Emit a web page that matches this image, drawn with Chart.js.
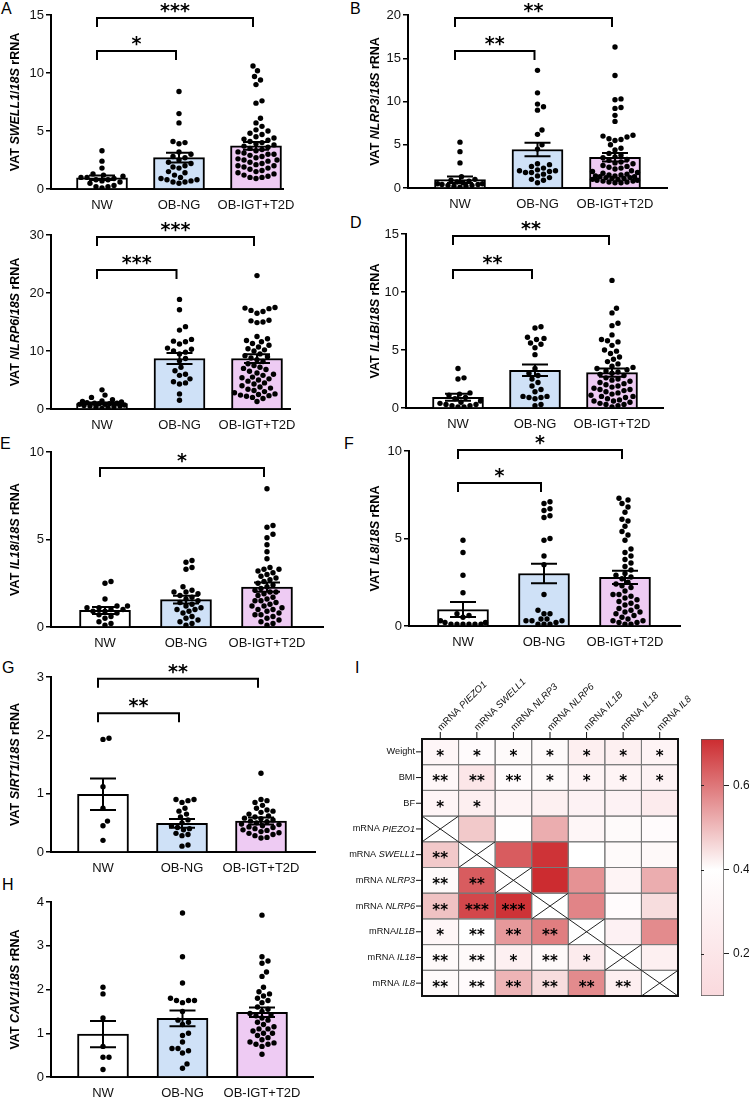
<!DOCTYPE html>
<html>
<head>
<meta charset="utf-8">
<script src="https://cdn.jsdelivr.net/npm/chart.js@4.4.1/dist/chart.umd.min.js"></script>
<style>
  html, body { margin: 0; padding: 0; background: #fff; width: 749px; height: 1097px; overflow: hidden; position: relative; font-family: "Liberation Sans", Arial, sans-serif; }
  canvas { position: absolute; }
  .lbl { position: absolute; font-size: 16px; line-height: 1; color: #000; }
</style>
</head>
<body>
<div class="lbl" style="left:1px;top:1px">A</div>
<div class="lbl" style="left:350px;top:1px">B</div>
<div class="lbl" style="left:350px;top:215px">D</div>
<div class="lbl" style="left:0px;top:436px">E</div>
<div class="lbl" style="left:344px;top:436px">F</div>
<div class="lbl" style="left:2px;top:660px">G</div>
<div class="lbl" style="left:355px;top:660px">I</div>
<div class="lbl" style="left:2px;top:877px">H</div>
<script>
const FONT = '"Liberation Sans", Arial, sans-serif';
const GROUPS = ['NW', 'OB-NG', 'OB-IGT+T2D'];
const GROUP_FILL = ['#ffffff', '#cfe1f7', '#eecbf3'];

// ---- A: SWELL1 ----
const swell1NW = [3.3, 2.4, 1.8, 1.3, 1.2, 1.1, 1.0, 1.0, 0.9, 0.8, 0.8, 0.7, 0.6, 0.5, 0.3, 0.2, 0.2, 0.1];
const swell1OBNG = [8.4, 6.5, 5.7, 4.1, 4.0, 3.9, 3.2, 3.0, 2.8, 2.7, 2.5, 2.3, 2.2, 2.0, 1.9, 1.8, 1.5, 1.4, 1.2, 1.0, 0.9, 0.8, 0.8, 0.7, 0.6, 0.6, 0.5];
const swell1IGT = [10.6, 10.2, 9.7, 9.4, 9.0, 7.6, 7.4, 6.1, 5.7, 5.4, 5.1, 5.0, 4.8, 4.7, 4.5, 4.4, 4.3, 4.2, 4.1, 4.0, 3.9, 3.8, 3.7, 3.6, 3.5, 3.4, 3.3, 3.2, 3.1, 3.0, 3.0, 2.9, 2.8, 2.7, 2.6, 2.5, 2.5, 2.4, 2.3, 2.2, 2.1, 2.0, 2.0, 1.9, 1.8, 1.7, 1.6, 1.5, 1.4, 1.3, 1.2, 1.1, 1.0, 1.0, 0.9];
const swell1Mean = [0.97, 2.7, 3.72];
const swell1Sem = [0.2, 0.42, 0.33];
const swell1Sig = [{ from: 1, to: 3, y: 14.74, label: '***' }, { from: 1, to: 2, y: 11.9, label: '*' }];

// ---- B: NLRP3 ----
const nlrp3NW = [5.3, 4.2, 2.9, 1.3, 1.0, 0.9, 0.8, 0.7, 0.6, 0.5, 0.5, 0.4, 0.4, 0.3, 0.3, 0.2, 0.2, 0.1];
const nlrp3OBNG = [13.6, 11.0, 9.7, 9.4, 9.0, 6.7, 6.2, 5.0, 4.5, 2.8, 2.7, 2.5, 2.3, 2.1, 2.0, 2.0, 1.9, 1.8, 1.8, 1.6, 1.4, 1.2, 1.0, 0.9, 0.6];
const nlrp3IGT = [16.3, 13.0, 10.3, 10.2, 9.3, 9.2, 8.4, 7.7, 6.1, 6.0, 5.9, 5.7, 5.6, 5.5, 5.0, 4.6, 4.4, 4.0, 3.8, 3.6, 3.5, 3.3, 3.2, 3.0, 2.9, 2.8, 2.6, 2.5, 2.4, 2.3, 2.2, 2.0, 1.9, 1.8, 1.7, 1.6, 1.5, 1.5, 1.4, 1.4, 1.3, 1.3, 1.2, 1.2, 1.1, 1.1, 1.0, 1.0, 0.9, 0.9, 0.8, 0.8, 0.7, 0.7, 0.6, 0.6];
const nlrp3Mean = [0.96, 4.45, 3.55];
const nlrp3Sem = [0.38, 0.78, 0.5];
const nlrp3Sig = [{ from: 1, to: 3, y: 19.65, label: '**' }, { from: 1, to: 2, y: 15.84, label: '**' }];

// ---- C: NLRP6 ----
const nlrp6NW = [3.3, 2.4, 2.0, 1.6, 1.4, 1.3, 1.2, 1.1, 1.0, 1.0, 0.9, 0.9, 0.8, 0.8, 0.7, 0.6, 0.5, 0.5, 0.4, 0.3, 0.2, 0.1];
const nlrp6OBNG = [18.9, 17.1, 14.2, 13.6, 12.0, 11.7, 11.6, 11.2, 10.5, 10.3, 10.0, 9.8, 9.5, 8.7, 8.3, 7.2, 6.6, 6.0, 5.8, 5.2, 4.7, 4.5, 4.3, 2.6, 1.5];
const nlrp6IGT = [23.0, 17.5, 17.4, 17.3, 17.0, 16.8, 16.5, 15.3, 15.2, 15.0, 14.9, 12.5, 12.1, 11.8, 11.6, 11.3, 11.0, 10.7, 10.4, 10.2, 10.0, 9.5, 9.2, 9.0, 8.8, 8.5, 8.2, 7.8, 7.5, 7.2, 7.0, 6.8, 6.5, 6.2, 6.0, 5.8, 5.5, 5.4, 5.2, 5.0, 4.8, 4.5, 4.3, 4.0, 3.8, 3.6, 3.4, 3.2, 3.0, 2.8, 2.6, 2.5, 2.4, 2.3, 2.2, 2.0, 1.8, 1.3];
const nlrp6Mean = [0.95, 8.7, 8.7];
const nlrp6Sem = [0.15, 0.95, 0.75];
const nlrp6Sig = [{ from: 1, to: 3, y: 29.66, label: '***' }, { from: 1, to: 2, y: 23.97, label: '***' }];

// ---- D: IL1B ----
const il1bNW = [3.4, 2.6, 2.5, 1.3, 1.2, 1.1, 0.9, 0.8, 0.6, 0.5, 0.4, 0.3, 0.3, 0.2, 0.2, 0.1, 0.1];
const il1bOBNG = [7.0, 6.9, 6.1, 6.0, 5.9, 5.6, 5.5, 5.2, 4.6, 3.4, 3.0, 2.8, 2.5, 2.2, 1.9, 1.6, 1.4, 1.0, 1.0, 0.9, 0.9, 0.8, 0.3, 0.2];
const il1bIGT = [11.0, 8.6, 8.2, 7.3, 7.1, 6.3, 5.9, 5.8, 5.7, 5.4, 5.0, 4.9, 4.7, 4.4, 4.2, 4.0, 3.8, 3.6, 3.5, 3.4, 3.3, 3.2, 3.1, 3.0, 2.9, 2.8, 2.6, 2.5, 2.4, 2.3, 2.2, 2.1, 2.0, 1.9, 1.8, 1.7, 1.6, 1.6, 1.5, 1.4, 1.3, 1.2, 1.1, 1.0, 1.0, 0.9, 0.8, 0.7, 0.6, 0.6, 0.5, 0.4, 0.3, 0.3, 0.2, 0.1];
const il1bMean = [0.92, 3.25, 3.05];
const il1bSem = [0.3, 0.5, 0.35];
const il1bSig = [{ from: 1, to: 3, y: 14.83, label: '**' }, { from: 1, to: 2, y: 11.9, label: '**' }];

// ---- E: IL18 ----
const il18NW = [2.6, 2.5, 1.6, 1.2, 1.2, 1.1, 1.1, 1.0, 1.0, 0.9, 0.9, 0.8, 0.7, 0.6, 0.5, 0.3, 0.2, 0.1];
const il18OBNG = [3.8, 3.7, 3.4, 3.3, 2.3, 2.1, 2.0, 2.0, 1.9, 1.8, 1.7, 1.6, 1.5, 1.4, 1.3, 1.2, 1.1, 1.0, 1.0, 0.9, 0.8, 0.6, 0.5, 0.4, 0.3, 0.2, 0.1];
const il18IGT = [7.9, 5.8, 5.7, 5.3, 5.1, 4.7, 4.3, 3.9, 3.4, 3.3, 3.3, 3.2, 3.1, 3.0, 2.9, 2.8, 2.7, 2.6, 2.5, 2.4, 2.3, 2.2, 2.1, 2.0, 2.0, 1.9, 1.8, 1.7, 1.6, 1.5, 1.5, 1.4, 1.3, 1.2, 1.2, 1.1, 1.0, 1.0, 0.9, 0.8, 0.7, 0.7, 0.6, 0.5, 0.4, 0.3, 0.2, 0.1];
const il18Mean = [0.95, 1.56, 2.28];
const il18Sem = [0.2, 0.22, 0.26];
const il18Sig = [{ from: 1, to: 3, y: 9.09, label: '*' }];

// ---- F: IL8 ----
const il8NW = [4.9, 4.2, 2.9, 1.9, 0.7, 0.6, 0.5, 0.3, 0.2, 0.2, 0.1, 0.1, 0.1, 0.1, 0.1, 0.1];
const il8OBNG = [7.1, 7.0, 6.7, 6.6, 6.3, 6.2, 5.0, 4.9, 4.0, 3.5, 1.8, 0.9, 0.7, 0.7, 0.4, 0.4, 0.3, 0.3, 0.3, 0.2, 0.1, 0.1, 0.1];
const il8IGT = [7.3, 7.2, 7.0, 6.8, 6.5, 6.1, 6.0, 5.7, 5.4, 5.2, 4.9, 4.4, 4.2, 4.0, 3.8, 3.6, 3.4, 3.2, 3.0, 2.9, 2.8, 2.7, 2.5, 2.4, 2.3, 2.2, 2.0, 1.8, 1.8, 1.7, 1.6, 1.5, 1.4, 1.3, 1.2, 1.1, 1.0, 0.9, 0.8, 0.8, 0.7, 0.6, 0.5, 0.4, 0.3, 0.3, 0.2, 0.2, 0.1, 0.1];
const il8Mean = [0.94, 3.0, 2.78];
const il8Sem = [0.43, 0.56, 0.38];
const il8Sig = [{ from: 1, to: 3, y: 10.06, label: '*' }, { from: 1, to: 2, y: 8.17, label: '*' }];

// ---- G: SIRT1 ----
const sirt1NW = [1.95, 1.93, 1.12, 0.75, 0.53, 0.45, 0.2];
const sirt1OBNG = [0.9, 0.9, 0.88, 0.85, 0.75, 0.7, 0.65, 0.6, 0.55, 0.5, 0.45, 0.42, 0.4, 0.38, 0.32, 0.3, 0.28, 0.12, 0.1];
const sirt1IGT = [1.35, 0.9, 0.88, 0.85, 0.8, 0.75, 0.72, 0.7, 0.68, 0.65, 0.62, 0.6, 0.58, 0.57, 0.55, 0.53, 0.52, 0.5, 0.48, 0.47, 0.45, 0.43, 0.42, 0.4, 0.38, 0.37, 0.35, 0.33, 0.32, 0.3, 0.28, 0.25, 0.24];
const sirt1Mean = [0.99, 0.49, 0.53];
const sirt1Sem = [0.27, 0.075, 0.06];
const sirt1Sig = [{ from: 1, to: 3, y: 2.97, label: '**' }, { from: 1, to: 2, y: 2.38, label: '**' }];

// ---- H: CAV1 ----
const cav1NW = [2.05, 1.9, 1.35, 0.7, 0.45, 0.45, 0.17];
const cav1OBNG = [3.75, 2.75, 2.15, 1.8, 1.75, 1.75, 1.75, 1.7, 1.5, 1.3, 1.25, 1.2, 1.0, 0.95, 0.8, 0.65, 0.65, 0.6, 0.55, 0.3, 0.2];
const cav1IGT = [3.7, 2.75, 2.65, 2.6, 2.4, 2.3, 2.05, 1.95, 1.9, 1.85, 1.8, 1.75, 1.7, 1.6, 1.55, 1.5, 1.45, 1.42, 1.4, 1.35, 1.3, 1.25, 1.2, 1.15, 1.1, 1.1, 1.05, 1.0, 1.0, 0.95, 0.9, 0.85, 0.8, 0.78, 0.75, 0.75, 0.7, 0.52];
const cav1Mean = [0.98, 1.34, 1.48];
const cav1Sem = [0.3, 0.18, 0.11];
const cav1Sig = [];

// ---- I: correlation heatmap ----
const HEAT_ROWS = ['Weight', 'BMI', 'BF', 'mRNA PIEZO1', 'mRNA SWELL1', 'mRNA NLRP3', 'mRNA NLRP6', 'mRNAIL1B', 'mRNA IL18', 'mRNA IL8'];
const HEAT_COLS = ['mRNA PIEZO1', 'mRNA SWELL1', 'mRNA NLRP3', 'mRNA NLRP6', 'mRNA IL1B', 'mRNA IL18', 'mRNA IL8'];
const heatVals = [
  [0.33, 0.37, 0.36, 0.36, 0.27, 0.28, 0.31],
  [0.34, 0.20, 0.37, 0.36, 0.31, 0.31, 0.30],
  [0.32, 0.27, 0.31, 0.28, 0.30, 0.30, 0.24],
  [null, 0.48, 0.39, 0.52, 0.33, 0.36, 0.37],
  [0.48, null, 0.64, 0.70, 0.40, 0.36, 0.35],
  [0.36, 0.64, null, 0.71, 0.56, 0.31, 0.52],
  [0.49, 0.67, 0.70, null, 0.58, 0.37, 0.45],
  [0.33, 0.40, 0.55, 0.59, null, 0.29, 0.57],
  [0.36, 0.36, 0.28, 0.35, 0.24, null, 0.28],
  [0.36, 0.37, 0.51, 0.45, 0.57, 0.27, null]
];
const heatStars = [
  ['*', '*', '*', '*', '*', '*', '*'],
  ['**', '**', '**', '*', '*', '*', '*'],
  ['*', '*', '', '', '', '', ''],
  ['', '', '', '', '', '', ''],
  ['**', '', '', '', '', '', ''],
  ['**', '**', '', '', '', '', ''],
  ['**', '***', '***', '', '', '', ''],
  ['*', '**', '**', '**', '', '', ''],
  ['**', '**', '*', '**', '*', '', ''],
  ['**', '**', '**', '**', '**', '**', '']
];
const CBAR_MIN = 0.1, CBAR_MAX = 0.71;
const CBAR_TICKS = [0.2, 0.4, 0.6];
const CBAR_STOPS = [[0.1, [250, 217, 221]], [0.4, [255, 255, 255]], [0.71, [204, 44, 48]]];

// ---------- helpers ----------
function heatColor(v) {
  for (let k = 0; k < CBAR_STOPS.length - 1; k++) {
    const [a, ca] = CBAR_STOPS[k], [b, cb] = CBAR_STOPS[k + 1];
    if (v <= b || k === CBAR_STOPS.length - 2) {
      const t = Math.min(1, Math.max(0, (v - a) / (b - a)));
      return 'rgb(' + ca.map((c, i) => Math.round(c + (cb[i] - c) * t)).join(',') + ')';
    }
  }
}

function drawMixed(ctx, parts, x, y, size, bold, align) {
  const fonts = parts.map(p => (p.it ? 'italic ' : '') + (bold ? 'bold ' : '') + size + 'px ' + FONT);
  const widths = parts.map((p, i) => { ctx.font = fonts[i]; return ctx.measureText(p.t).width; });
  const total = widths.reduce((s, w) => s + w, 0);
  let cx = align === 'center' ? x - total / 2 : align === 'right' ? x - total : x;
  ctx.textAlign = 'left';
  ctx.textBaseline = 'middle';
  parts.forEach((p, i) => { ctx.font = fonts[i]; ctx.fillText(p.t, cx, y); cx += widths[i]; });
}

function drawStars(ctx, s, cx, cy, size, gap) {
  ctx.font = 'bold ' + size + 'px "DejaVu Sans"';
  ctx.textAlign = 'center';
  ctx.textBaseline = 'alphabetic';
  const n = s.length;
  for (let k = 0; k < n; k++) ctx.fillText('*', cx + (k - (n - 1) / 2) * gap, cy + size * 0.58);
}

function titleParts(gene) {
  return [{ t: 'VAT ' }, { t: gene, it: true }, { t: '/' }, { t: '18S', it: true }, { t: ' rRNA' }];
}

function heatLabelParts(label) {
  if (label.startsWith('mRNA')) {
    const rest = label.slice(4);
    return [{ t: rest.startsWith(' ') ? 'mRNA ' : 'mRNA' }, { t: rest.trim(), it: true }];
  }
  return [{ t: label }];
}

// column-scatter layout: spread points sideways inside the bar width
function swarmOffsets(vals, pxPerY, dotGap, maxHalf) {
  const order = vals.map((v, i) => i).sort((a, b) => vals[a] - vals[b]);
  const placed = [];
  const out = [];
  order.forEach(i => {
    const py = vals[i] * pxPerY;
    const near = placed.filter(p => Math.abs(p.y - py) < dotGap);
    let off = null, bestOff = 0, bestD = -1;
    for (let k = 0; ; k++) {
      const cand = (k % 2 ? 1 : -1) * Math.ceil(k / 2) * 1.5;
      if (Math.abs(cand) > maxHalf) break;
      const dmin = near.reduce((m, p) => Math.min(m, Math.hypot(p.x - cand, p.y - py)), Infinity);
      if (dmin >= dotGap) { off = cand; break; }
      if (dmin > bestD) { bestD = dmin; bestOff = cand; }
    }
    if (off === null) off = bestOff;
    placed.push({ x: off, y: py });
    out[i] = off;
  });
  return out;
}

const panelDecor = {
  id: 'panelDecor',
  afterDraw(chart, args, o) {
    const { ctx, chartArea: ca, scales: { x, y } } = chart;
    ctx.save();
    ctx.strokeStyle = '#000';
    ctx.fillStyle = '#000';
    ctx.lineWidth = 2;
    o.means.forEach((m, i) => {
      const cx = x.getPixelForValue(i + 1);
      const yt = y.getPixelForValue(m + o.sem[i]);
      const yb = y.getPixelForValue(Math.max(m - o.sem[i], 0));
      ctx.beginPath();
      ctx.moveTo(cx, yt); ctx.lineTo(cx, yb);
      ctx.moveTo(cx - 13, yt); ctx.lineTo(cx + 13, yt);
      ctx.moveTo(cx - 13, yb); ctx.lineTo(cx + 13, yb);
      ctx.stroke();
    });
    o.sig.forEach(b => {
      const xa = x.getPixelForValue(b.from) - 5, xb = x.getPixelForValue(b.to) - 3;
      const yy = y.getPixelForValue(b.y);
      ctx.beginPath();
      ctx.moveTo(xa, yy + 9); ctx.lineTo(xa, yy); ctx.lineTo(xb, yy); ctx.lineTo(xb, yy + 9);
      ctx.stroke();
      drawStars(ctx, b.label, (xa + xb) / 2, yy - 12, 19, 10);
    });
    ctx.translate(o.titleX, (ca.top + ca.bottom) / 2);
    ctx.rotate(-Math.PI / 2);
    drawMixed(ctx, titleParts(o.gene), 0, 0, 12.5, true, 'center');
    ctx.restore();
  }
};

function makeBarPanel(L, d) {
  const cv = document.createElement('canvas');
  const cTop = L.yT - 30;
  const cH = L.yB - L.yT + 60;
  cv.width = L.colW; cv.height = cH;
  cv.style.left = L.colLeft + 'px'; cv.style.top = cTop + 'px';
  document.body.appendChild(cv);

  const unit = (L.centers[2] - L.centers[0]) / 2;
  const xMin = 1 - (L.centers[0] - L.x0) / unit;
  const xMax = 3 + (L.x1 - L.centers[2]) / unit;
  const pxPerY = (L.yB - L.yT) / d.yMax;
  const pts = [];
  d.points.forEach((vals, g) => {
    const offs = swarmOffsets(vals, pxPerY, 6.0, 22.5);
    vals.forEach((v, k) => pts.push({ x: g + 1 + offs[k] / unit, y: v }));
  });

  new Chart(cv, {
    type: 'bar',
    data: {
      datasets: [
        { type: 'bar', data: d.means.map((m, i) => ({ x: i + 1, y: m })), backgroundColor: GROUP_FILL, borderColor: '#000', borderWidth: 2, barThickness: 51, order: 2 },
        { type: 'scatter', data: pts, pointRadius: 2.7, pointBackgroundColor: '#000', pointBorderWidth: 0, order: 1 }
      ]
    },
    options: {
      responsive: false, animation: false, events: [],
      layout: { padding: { left: L.x0 - L.colLeft - 40, right: L.colW - (L.x1 - L.colLeft), top: 30, bottom: 0 } },
      plugins: {
        legend: { display: false }, tooltip: { enabled: false },
        panelDecor: { means: d.means, sem: d.sem, sig: d.sig, gene: d.gene, titleX: L.titleX - L.colLeft }
      },
      scales: {
        x: {
          type: 'linear', min: xMin, max: xMax, offset: false, z: 1,
          afterBuildTicks: s => { s.ticks = [1, 2, 3].map(v => ({ value: v })); },
          afterFit: s => { s.height = 30; },
          grid: { display: false, drawTicks: false, offset: false },
          border: { display: true, color: '#000', width: 2 },
          ticks: { callback: v => GROUPS[v - 1], color: '#111', font: { family: FONT, size: 13 }, padding: 9, autoSkip: false, maxRotation: 0 }
        },
        y: {
          min: 0, max: d.yMax, z: 1,
          afterFit: s => { s.width = 40; },
          ticks: { stepSize: d.step, color: '#111', font: { family: FONT, size: 13 }, padding: 2 },
          grid: { drawOnChartArea: false, tickLength: 5, color: '#000', lineWidth: 1.5 },
          border: { color: '#000', width: 2 }
        }
      }
    },
    plugins: [panelDecor]
  });
}

const LEFT = { colLeft: 0, colW: 345, titleX: 16 };
const RIGHT = { colLeft: 360, colW: 389, titleX: 376 };

makeBarPanel({ ...LEFT, x0: 51, x1: 283, yT: 15, yB: 189, centers: [102, 178, 256] },
  { points: [swell1NW, swell1OBNG, swell1IGT], means: swell1Mean, sem: swell1Sem, sig: swell1Sig, gene: 'SWELL1', yMax: 15, step: 5 });
makeBarPanel({ ...RIGHT, x0: 408, x1: 667, yT: 15, yB: 188, centers: [460, 537, 615] },
  { points: [nlrp3NW, nlrp3OBNG, nlrp3IGT], means: nlrp3Mean, sem: nlrp3Sem, sig: nlrp3Sig, gene: 'NLRP3', yMax: 20, step: 5 });
makeBarPanel({ ...LEFT, x0: 51, x1: 290, yT: 235, yB: 409, centers: [102, 179, 257] },
  { points: [nlrp6NW, nlrp6OBNG, nlrp6IGT], means: nlrp6Mean, sem: nlrp6Sem, sig: nlrp6Sig, gene: 'NLRP6', yMax: 30, step: 10 });
makeBarPanel({ ...RIGHT, x0: 406, x1: 663, yT: 234, yB: 408, centers: [458, 535, 612] },
  { points: [il1bNW, il1bOBNG, il1bIGT], means: il1bMean, sem: il1bSem, sig: il1bSig, gene: 'IL1B', yMax: 15, step: 5 });
makeBarPanel({ ...LEFT, x0: 51, x1: 323, yT: 452, yB: 627, centers: [105, 187, 267] },
  { points: [il18NW, il18OBNG, il18IGT], means: il18Mean, sem: il18Sem, sig: il18Sig, gene: 'IL18', yMax: 10, step: 5 });
makeBarPanel({ ...RIGHT, x0: 409, x1: 680, yT: 451, yB: 626, centers: [463, 544, 625] },
  { points: [il8NW, il8OBNG, il8IGT], means: il8Mean, sem: il8Sem, sig: il8Sig, gene: 'IL8', yMax: 10, step: 5 });
makeBarPanel({ ...LEFT, x0: 51, x1: 315, yT: 677, yB: 852, centers: [103, 183, 261] },
  { points: [sirt1NW, sirt1OBNG, sirt1IGT], means: sirt1Mean, sem: sirt1Sem, sig: sirt1Sig, gene: 'SIRT1', yMax: 3, step: 1 });
makeBarPanel({ ...LEFT, x0: 51, x1: 313, yT: 902, yB: 1077, centers: [103, 183, 262] },
  { points: [cav1NW, cav1OBNG, cav1IGT], means: cav1Mean, sem: cav1Sem, sig: cav1Sig, gene: 'CAV1', yMax: 4, step: 1 });

// ---------- heatmap ----------
const heatDecor = {
  id: 'heatDecor',
  afterDraw(chart) {
    const { ctx, chartArea: ca } = chart;
    ctx.save();
    const cells = HEAT_COLS.map((c, j) => chart.getDatasetMeta(j).data);
    // cell grid
    ctx.strokeStyle = '#7a7a7a';
    ctx.lineWidth = 1;
    cells.forEach(col => col.forEach(el => {
      ctx.strokeRect(el.base, el.y - el.height / 2, el.x - el.base, el.height);
    }));
    // diagonal crosses and stars
    cells.forEach((col, j) => col.forEach((el, i) => {
      const t = el.y - el.height / 2, b = el.y + el.height / 2;
      if (heatVals[i][j] === null) {
        ctx.strokeStyle = '#222';
        ctx.beginPath();
        ctx.moveTo(el.base, t); ctx.lineTo(el.x, b);
        ctx.moveTo(el.base, b); ctx.lineTo(el.x, t);
        ctx.stroke();
      }
      if (heatStars[i][j]) {
        ctx.fillStyle = '#000';
        drawStars(ctx, heatStars[i][j], (el.base + el.x) / 2, el.y, 15, 8);
      }
    }));
    // frame
    ctx.strokeStyle = '#111';
    ctx.lineWidth = 2;
    ctx.strokeRect(ca.left, ca.top, ca.right - ca.left, ca.bottom - ca.top);
    // ticks + labels
    ctx.lineWidth = 1;
    ctx.fillStyle = '#111';
    cells[0].forEach((el, i) => {
      ctx.beginPath(); ctx.moveTo(ca.left - 6, el.y); ctx.lineTo(ca.left, el.y); ctx.stroke();
      drawMixed(ctx, heatLabelParts(HEAT_ROWS[i]), ca.left - 7, el.y, 9.2, false, 'right');
    });
    cells.forEach((col, j) => {
      const cx = (col[0].base + col[0].x) / 2;
      ctx.beginPath(); ctx.moveTo(cx, ca.top - 7); ctx.lineTo(cx, ca.top); ctx.stroke();
      ctx.save();
      ctx.translate(cx - 1, ca.top - 10);
      ctx.rotate(-Math.PI / 4);
      drawMixed(ctx, heatLabelParts(HEAT_COLS[j]), 0, 0, 9.6, false, 'left');
      ctx.restore();
    });
    ctx.restore();
  }
};

(function () {
  const cv = document.createElement('canvas');
  const left = 345, top = 660, w = 404, h = 380;
  cv.width = w; cv.height = h; cv.style.left = left + 'px'; cv.style.top = top + 'px';
  document.body.appendChild(cv);
  new Chart(cv, {
    type: 'bar',
    data: {
      labels: HEAT_ROWS,
      datasets: HEAT_COLS.map((c, j) => ({
        label: c,
        data: HEAT_ROWS.map(() => 1),
        backgroundColor: HEAT_ROWS.map((r, i) => heatVals[i][j] === null ? '#ffffff' : heatColor(heatVals[i][j])),
        borderWidth: 0, barPercentage: 1, categoryPercentage: 1
      }))
    },
    options: {
      indexAxis: 'y', responsive: false, animation: false, events: [],
      layout: { padding: { left: 422 - left, top: 739 - top, right: w - (678 - left), bottom: h - (996 - top) } },
      plugins: { legend: { display: false }, tooltip: { enabled: false } },
      scales: {
        x: { stacked: true, min: 0, max: HEAT_COLS.length, display: false },
        y: { stacked: true, display: false }
      }
    },
    plugins: [heatDecor]
  });
})();

// ---------- colour bar ----------
const cbarDecor = {
  id: 'cbarDecor',
  afterDraw(chart) {
    const { ctx, chartArea: ca, scales: { y } } = chart;
    ctx.save();
    ctx.strokeStyle = '#222';
    ctx.lineWidth = 1;
    CBAR_TICKS.forEach(v => {
      const py = Math.round(y.getPixelForValue(v)) + 0.5;
      ctx.beginPath(); ctx.moveTo(ca.left, py); ctx.lineTo(ca.left + 3, py); ctx.stroke();
    });
    ctx.restore();
  }
};

(function () {
  const cv = document.createElement('canvas');
  const left = 690, top = 720, w = 59, h = 300;
  cv.width = w; cv.height = h; cv.style.left = left + 'px'; cv.style.top = top + 'px';
  document.body.appendChild(cv);
  new Chart(cv, {
    type: 'bar',
    data: {
      labels: [''],
      datasets: [{
        data: [[CBAR_MIN, CBAR_MAX]],
        backgroundColor: (c) => {
          const ch = c.chart;
          if (!ch.chartArea) return '#fff';
          const ys = ch.scales.y;
          const g = ch.ctx.createLinearGradient(0, ys.getPixelForValue(CBAR_MIN), 0, ys.getPixelForValue(CBAR_MAX));
          CBAR_STOPS.forEach(([v, col]) => g.addColorStop((v - CBAR_MIN) / (CBAR_MAX - CBAR_MIN), 'rgb(' + col.join(',') + ')'));
          return g;
        },
        borderColor: '#555', borderWidth: 1, borderSkipped: false,
        barPercentage: 1, categoryPercentage: 1
      }]
    },
    options: {
      responsive: false, animation: false, events: [],
      layout: { padding: { left: 701 - left, top: 739 - top, right: 0, bottom: h - (996 - top) } },
      plugins: { legend: { display: false }, tooltip: { enabled: false } },
      scales: {
        x: { display: false },
        y: {
          position: 'right', min: CBAR_MIN, max: CBAR_MAX,
          afterBuildTicks: s => { s.ticks = CBAR_TICKS.map(v => ({ value: v })); },
          afterFit: s => { s.width = w - (724 - left); },
          ticks: { callback: v => v.toFixed(1), color: '#111', font: { family: FONT, size: 12 }, padding: 4 },
          grid: { drawOnChartArea: false, tickLength: 5, color: '#222' },
          border: { display: false }
        }
      }
    },
    plugins: [cbarDecor]
  });
})();
</script>
</body>
</html>
